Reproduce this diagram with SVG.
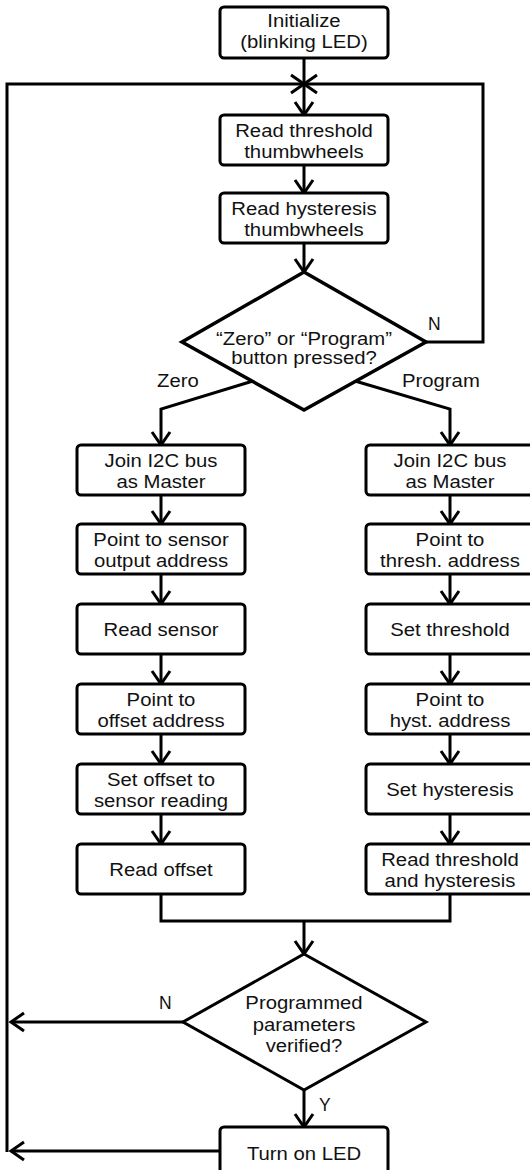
<svg xmlns="http://www.w3.org/2000/svg" width="530" height="1170" viewBox="0 0 530 1170">
<style>
.box{fill:#fff;stroke:#000;stroke-width:3}
.dia{fill:#fff;stroke:#000;stroke-width:3.5}
.c{fill:none;stroke:#000;stroke-width:3}
text{font-family:"Liberation Sans",Arial,sans-serif;font-size:17.5px;fill:#111}
.m{text-anchor:middle}
</style>
<defs>
<marker id="ah" markerUnits="userSpaceOnUse" markerWidth="30" markerHeight="30" viewBox="-15 -15 30 30" refX="0" refY="0" orient="auto" overflow="visible">
<path d="M-13,-9 L0,0 L-13,9" fill="none" stroke="#000" stroke-width="3"/>
</marker>
</defs>
<rect width="530" height="1170" fill="#fff"/>
<g id="connectors">
<path class="c" d="M304,58 V115" marker-end="url(#ah)"/>
<path class="c" d="M7,1152 V84 H304" marker-end="url(#ah)"/>
<path class="c" d="M426,342 H483 V84 H304" marker-end="url(#ah)"/>
<path class="c" d="M304,165 V193" marker-end="url(#ah)"/>
<path class="c" d="M304,243 V272" marker-end="url(#ah)"/>
<path class="c" d="M253,381 L161,409 V445" marker-end="url(#ah)"/>
<path class="c" d="M355,381 L450,409 V445" marker-end="url(#ah)"/>
<path class="c" d="M161,495 V524" marker-end="url(#ah)"/>
<path class="c" d="M161,574 V604" marker-end="url(#ah)"/>
<path class="c" d="M161,654 V684" marker-end="url(#ah)"/>
<path class="c" d="M161,734 V764" marker-end="url(#ah)"/>
<path class="c" d="M161,814 V844" marker-end="url(#ah)"/>
<path class="c" d="M450,495 V524" marker-end="url(#ah)"/>
<path class="c" d="M450,574 V604" marker-end="url(#ah)"/>
<path class="c" d="M450,654 V684" marker-end="url(#ah)"/>
<path class="c" d="M450,734 V764" marker-end="url(#ah)"/>
<path class="c" d="M450,814 V844" marker-end="url(#ah)"/>
<path class="c" d="M161,894 V921 H450 V894"/>
<path class="c" d="M304,921 V954" marker-end="url(#ah)"/>
<path class="c" d="M183,1022 H11" marker-end="url(#ah)"/>
<path class="c" d="M304,1090 V1127" marker-end="url(#ah)"/>
<path class="c" d="M220,1151 H11" marker-end="url(#ah)"/>
<text x="428" y="330">N</text>
<text x="157" y="387" transform="translate(157,0) scale(1.16,1) translate(-157,0)">Zero</text>
<text x="402" y="387" transform="translate(402,0) scale(1.16,1) translate(-402,0)">Program</text>
<text x="159" y="1009">N</text>
<text x="319" y="1111">Y</text>
</g>
<g id="init">
<rect class="box" x="220" y="7" width="168" height="51" rx="4"/>
<text class="m" transform="translate(304,27) scale(1.16,1)">Initialize</text>
<text class="m" transform="translate(304,48) scale(1.16,1)">(blinking LED)</text>
</g>
<g id="readThreshold">
<rect class="box" x="220" y="115" width="168" height="50" rx="4"/>
<text class="m" transform="translate(304,137) scale(1.16,1)">Read threshold</text>
<text class="m" transform="translate(304,158) scale(1.16,1)">thumbwheels</text>
</g>
<g id="readHysteresis">
<rect class="box" x="220" y="193" width="168" height="50" rx="4"/>
<text class="m" transform="translate(304,215) scale(1.16,1)">Read hysteresis</text>
<text class="m" transform="translate(304,236) scale(1.16,1)">thumbwheels</text>
</g>
<g id="buttonDecision">
<polygon class="dia" points="304,272 426,342 304,410 182,342"/>
<text class="m" transform="translate(304,345) scale(1.16,1)">“Zero” or “Program”</text>
<text class="m" transform="translate(304,364) scale(1.16,1)">button pressed?</text>
</g>
<g id="zJoin">
<rect class="box" x="77" y="445" width="168" height="50" rx="4"/>
<text class="m" transform="translate(161,467) scale(1.16,1)">Join I2C bus</text>
<text class="m" transform="translate(161,488) scale(1.16,1)">as Master</text>
</g>
<g id="zPoint1">
<rect class="box" x="77" y="524" width="168" height="50" rx="4"/>
<text class="m" transform="translate(161,546) scale(1.16,1)">Point to sensor</text>
<text class="m" transform="translate(161,567) scale(1.16,1)">output address</text>
</g>
<g id="zReadSensor">
<rect class="box" x="77" y="604" width="168" height="50" rx="4"/>
<text class="m" transform="translate(161,636) scale(1.16,1)">Read sensor</text>
</g>
<g id="zPoint2">
<rect class="box" x="77" y="684" width="168" height="50" rx="4"/>
<text class="m" transform="translate(161,706) scale(1.16,1)">Point to</text>
<text class="m" transform="translate(161,727) scale(1.16,1)">offset address</text>
</g>
<g id="zSetOffset">
<rect class="box" x="77" y="764" width="168" height="50" rx="4"/>
<text class="m" transform="translate(161,786) scale(1.16,1)">Set offset to</text>
<text class="m" transform="translate(161,807) scale(1.16,1)">sensor reading</text>
</g>
<g id="zReadOffset">
<rect class="box" x="77" y="844" width="168" height="50" rx="4"/>
<text class="m" transform="translate(161,876) scale(1.16,1)">Read offset</text>
</g>
<g id="pJoin">
<rect class="box" x="366" y="445" width="168" height="50" rx="4"/>
<text class="m" transform="translate(450,467) scale(1.16,1)">Join I2C bus</text>
<text class="m" transform="translate(450,488) scale(1.16,1)">as Master</text>
</g>
<g id="pPoint1">
<rect class="box" x="366" y="524" width="168" height="50" rx="4"/>
<text class="m" transform="translate(450,546) scale(1.16,1)">Point to</text>
<text class="m" transform="translate(450,567) scale(1.16,1)">thresh. address</text>
</g>
<g id="pSetThreshold">
<rect class="box" x="366" y="604" width="168" height="50" rx="4"/>
<text class="m" transform="translate(450,636) scale(1.16,1)">Set threshold</text>
</g>
<g id="pPoint2">
<rect class="box" x="366" y="684" width="168" height="50" rx="4"/>
<text class="m" transform="translate(450,706) scale(1.16,1)">Point to</text>
<text class="m" transform="translate(450,727) scale(1.16,1)">hyst. address</text>
</g>
<g id="pSetHysteresis">
<rect class="box" x="366" y="764" width="168" height="50" rx="4"/>
<text class="m" transform="translate(450,796) scale(1.16,1)">Set hysteresis</text>
</g>
<g id="pReadBack">
<rect class="box" x="366" y="844" width="168" height="50" rx="4"/>
<text class="m" transform="translate(450,866) scale(1.16,1)">Read threshold</text>
<text class="m" transform="translate(450,887) scale(1.16,1)">and hysteresis</text>
</g>
<g id="verifyDecision">
<polygon class="dia" style="stroke-width:3" points="304,954 426,1022 304,1090 183,1022"/>
<text class="m" transform="translate(304,1009) scale(1.16,1)">Programmed</text>
<text class="m" transform="translate(304,1031) scale(1.16,1)">parameters</text>
<text class="m" transform="translate(304,1052) scale(1.16,1)">verified?</text>
</g>
<g id="ledOn">
<rect class="box" x="220" y="1127" width="168" height="50" rx="4"/>
<text class="m" transform="translate(304,1160) scale(1.16,1)">Turn on LED</text>
</g>
</svg>
